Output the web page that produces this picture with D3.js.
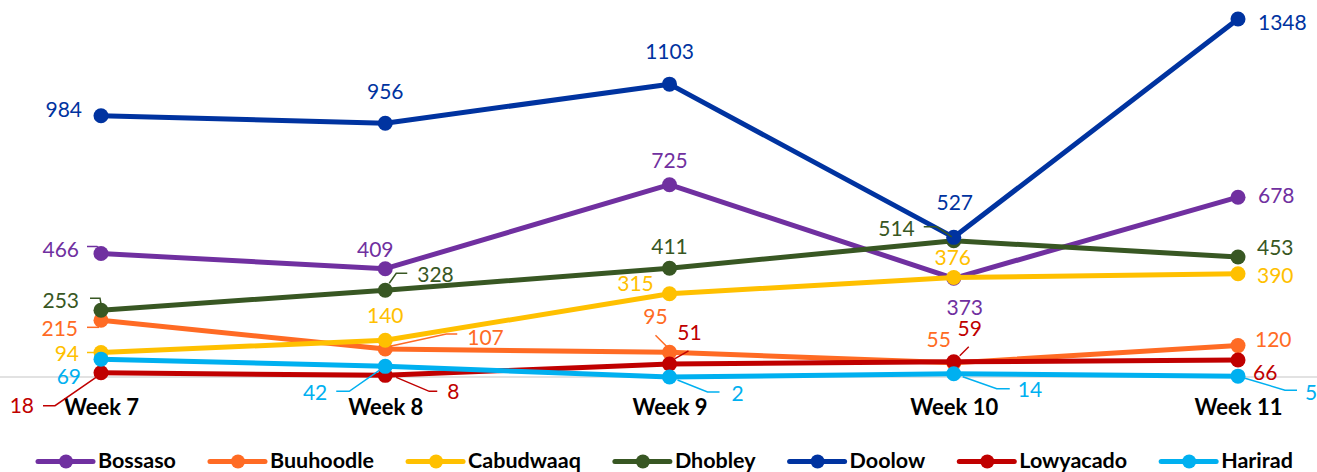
<!DOCTYPE html>
<html><head><meta charset="utf-8">
<script src="https://cdn.jsdelivr.net/npm/d3@7"></script>
<style>
html,body{margin:0;padding:0;background:#fff;}
svg{display:block;}
</style></head>
<body>
<svg id="chart" width="1317" height="472"></svg>
<script>
// ---- data ----
const weeks = ["Week 7", "Week 8", "Week 9", "Week 10", "Week 11"];
const seriesNames = ["Bossaso", "Buuhoodle", "Cabudwaaq", "Dhobley", "Doolow", "Lowyacado", "Harirad"];
const bossaso   = [466, 409, 725, 373, 678];
const buuhoodle = [215, 107, 95, 55, 120];
const cabudwaaq = [94, 140, 315, 376, 390];
const dhobley   = [253, 328, 411, 514, 453];
const doolow    = [984, 956, 1103, 527, 1348];
const lowyacado = [18, 8, 51, 59, 66];
const harirad   = [69, 42, 2, 14, 5];
const seriesValues = [bossaso, buuhoodle, cabudwaaq, dhobley, doolow, lowyacado, harirad];

// ---- style ----
const colors = ["#7030A0", "#FF6B24", "#FFC000", "#385723", "#0033A0", "#C00000", "#00B0F0"];

// label layout: [dx, dy(center), anchor, leader points relative to point]
const labelLayout = {
  Bossaso: [[-22,-4,"end",[[-14,-7],[-4,-7],[0,-3]]],[-10,-19,"middle",null],[0,-24,"middle",null],[11,29,"middle",null],[20,-2,"start",null]],
  Buuhoodle: [[-23,8,"end",[[-14,7],[-2,7]]],[82,-12,"start",[[72,-15],[61,-15],[6,-3]]],[-14,-36,"middle",[[-14,-17],[-3,-6]]],[-15,-23,"middle",null],[17,-6,"start",null]],
  Cabudwaaq: [[-22,1,"end",[[-14,0],[-4,0]]],[0,-25,"middle",null],[-34,-10,"middle",null],[-1,-20,"middle",null],[19,2,"start",null]],
  Dhobley: [[-22,-10,"end",[[-11,-12],[-1,-12],[0,-6]]],[32,-16,"start",[[22,-17],[11,-17],[4,-7]]],[0,-22,"middle",null],[-39,-12,"end",[[-30,-14],[-17,-14],[-2,-4]]],[19,-10,"start",null]],
  Doolow: [[-19,-6,"end",null],[0,-32,"middle",null],[0,-33,"middle",null],[1,-35,"middle",null],[20,3,"start",null]],
  Lowyacado: [[-67,33,"end",[[-58,33],[-46,33],[-1,2]]],[62,16,"start",[[52,16],[44,16],[11,2]]],[20,-31,"middle",[[19,-13],[5,-5]]],[16,-33,"middle",[[15,-15],[6,-6]]],[15,12,"start",null]],
  Harirad: [[-20,17,"end",null],[-58,26,"end",[[-49,25],[-36,25],[-6,4]]],[62,16,"start",[[8,3],[38,15],[50,15]]],[64,16,"start",[[9,3],[43,15],[56,15]]],[67,16,"start",[[7,2],[47,14],[59,14]]]]
};

const svg = d3.select("#chart");
const x = d3.scalePoint().domain(weeks).range([101, 1238]);
const y = d3.scaleLinear().domain([0, 1348]).range([377.5, 19]);

// baseline axis
svg.append("line").attr("x1", 0).attr("x2", 1317)
  .attr("y1", y(0) - 0.5).attr("y2", y(0) - 0.5)
  .attr("stroke", "#d9d9d9").attr("stroke-width", 1.5);

// x axis labels
const xAxis = d3.axisBottom(x).tickSize(0).tickPadding(0);
const gx = svg.append("g").attr("transform", "translate(0,415)").call(xAxis);
gx.select(".domain").remove();
gx.selectAll("text").attr("font-family", "Lato, 'Open Sans', sans-serif")
  .attr("font-weight", "bold").attr("font-size", 22).attr("fill", "#000")
  .attr("y", 0).attr("dy", 0);

const line = d3.line().x((d, i) => x(weeks[i])).y(d => y(d));

seriesNames.forEach((name, si) => {
  const vals = seriesValues[si];
  const g = svg.append("g");
  g.append("path").datum(vals).attr("d", line)
    .attr("fill", "none").attr("stroke", colors[si]).attr("stroke-width", 5)
    .attr("stroke-linejoin", "round");
  g.selectAll("circle").data(vals).join("circle")
    .attr("cx", (d, i) => x(weeks[i])).attr("cy", d => y(d))
    .attr("r", 7.5).attr("fill", colors[si]);
});

// data labels
const lg = svg.append("g");
seriesNames.forEach((name, si) => {
  const vals = seriesValues[si];
  vals.forEach((v, i) => {
    const px = x(weeks[i]), py = y(v);
    const [dx, dy, anchor, leader] = labelLayout[name][i];
    if (leader) {
      lg.append("polyline")
        .attr("points", leader.map(p => (px + p[0]) + "," + (py + p[1])).join(" "))
        .attr("fill", "none").attr("stroke", colors[si]).attr("stroke-width", 1.5);
    }
    lg.append("text").attr("x", px + dx).attr("y", py + dy).attr("dy", "0.36em")
      .attr("text-anchor", anchor)
      .attr("font-family", "Lato, 'Open Sans', sans-serif").attr("font-size", 21)
      .attr("fill", colors[si]).text(v);
  });
});

// legend
const leg = svg.append("g");
let cx = 38;
const ly = 461.5;
seriesNames.forEach((name, si) => {
  const item = leg.append("g");
  item.append("line").attr("x1", cx).attr("x2", cx + 55).attr("y1", ly).attr("y2", ly)
    .attr("stroke", colors[si]).attr("stroke-width", 5).attr("stroke-linecap", "round");
  item.append("circle").attr("cx", cx + 28).attr("cy", ly).attr("r", 7).attr("fill", colors[si]);
  const t = item.append("text").attr("x", cx + 60).attr("y", 468)
    .attr("font-family", "Lato, 'Open Sans', sans-serif").attr("font-weight", "bold")
    .attr("font-size", 21.5).attr("fill", "#000").text(name);
  cx = cx + 60 + t.node().getComputedTextLength() + 34;
});
</script>
</body></html>
